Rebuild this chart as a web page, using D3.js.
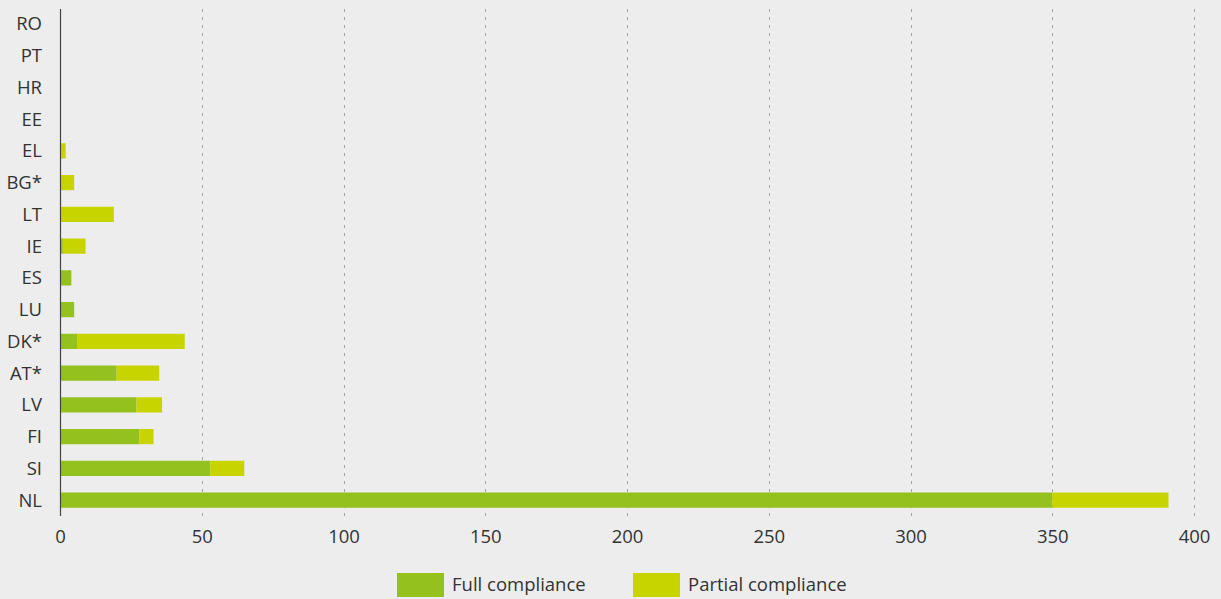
<!DOCTYPE html>
<html><head><meta charset="utf-8">
<script src="https://cdn.jsdelivr.net/npm/d3@7"></script>
<style>
html,body{margin:0;padding:0;background:#ededed;}
svg{display:block;}
text{font-family:"Open Sans","Noto Sans",sans-serif;fill:#333;}
</style></head>
<body>
<svg id="c" width="1221" height="599"></svg>
<script>
const categories = ["RO","PT","HR","EE","EL","BG*","LT","IE","ES","LU","DK*","AT*","LV","FI","SI","NL"];
const fullCompliance =    [0,0,0,0,0,0,0,1,4,5,6,20,27,28,53,350];
const partialCompliance = [0,0,0,0,2,5,19,8,0,0,38,15,9,5,12,41];
const xTicks = [0,50,100,150,200,250,300,350,400];
const seriesNames = ["Full compliance","Partial compliance"];
const colors = ["#95c11f","#c8d400"];

const svg = d3.select("#c");
const x = d3.scaleLinear().domain([0,400]).range([60,1194]);
const y = d3.scaleBand().domain(categories).range([8,516]).paddingInner(0.52).paddingOuter(0.26);

// gridlines
svg.append("g").selectAll("line").data(xTicks.filter(d=>d>0)).join("line")
  .attr("x1",d=>Math.round(x(d))+0.5).attr("x2",d=>Math.round(x(d))+0.5)
  .attr("y1",9).attr("y2",516)
  .attr("stroke","#a5a5a5").attr("stroke-width",1).attr("stroke-dasharray","3,5");

const data = categories.map((c,i)=>({cat:c, full:fullCompliance[i], partial:partialCompliance[i]}));
const stack = d3.stack().keys(["full","partial"])(data);

svg.append("g").selectAll("g").data(stack).join("g")
  .attr("fill",(d,i)=>colors[i])
  .selectAll("rect").data(d=>d).join("rect")
  .attr("x",d=>x(d[0])).attr("width",d=>x(d[1])-x(d[0]))
  .attr("y",d=>y(d.data.cat)).attr("height",y.bandwidth());

// y axis line
svg.append("line").attr("x1",60.5).attr("x2",60.5).attr("y1",9).attr("y2",516)
  .attr("stroke","#444").attr("stroke-width",1.2);

// category labels
svg.append("g").selectAll("text").data(categories).join("text")
  .attr("x",42).attr("y",d=>y(d)+y.bandwidth()/2).attr("dy","0.35em")
  .attr("text-anchor","end").attr("font-size",18.5).text(d=>d);

// x tick labels
const xAxis = d3.axisBottom(x).tickValues(xTicks).tickSize(0).tickPadding(0);
const gx = svg.append("g").attr("transform","translate(0,537)").call(xAxis);
gx.select(".domain").remove();
gx.selectAll("text").attr("font-size",18.5).attr("dy","0.35em").attr("fill","#333")
  .style("font-family",'"Open Sans","Noto Sans",sans-serif');

// legend
const legX = [397,633];
const lg = svg.append("g").selectAll("g").data(seriesNames).join("g")
  .attr("transform",(d,i)=>`translate(${legX[i]},573)`);
lg.append("rect").attr("width",47).attr("height",24).attr("fill",(d,i)=>colors[i]);
lg.append("text").attr("x",55).attr("y",12).attr("dy","0.35em").attr("font-size",18.5).text(d=>d);
</script>
</body></html>
